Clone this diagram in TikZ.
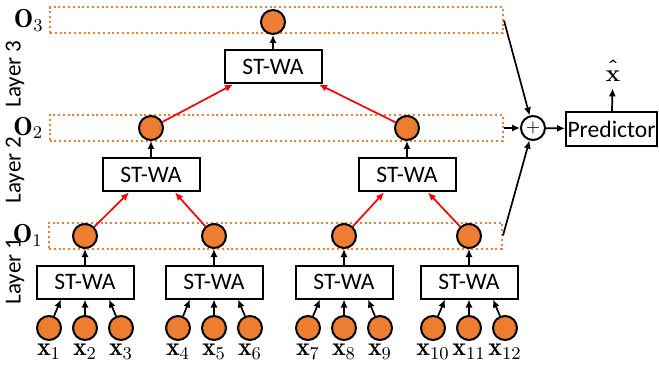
\documentclass[tikz,border=0pt]{standalone}
\usepackage{amsmath}
\usepackage{amssymb}
\usepackage{fontspec}
\setsansfont{Carlito}
\usetikzlibrary{positioning,arrows.meta}
\definecolor{unitorange}{RGB}{237,125,49}
\newcommand{\predhat}{\mbox{\boldmath$\hat{\vphantom{\mathbf{X}}\smash{\mathbf{x}}}$}}

\begin{document}
\begin{tikzpicture}[x=0.5pt,y=-0.5pt,>={Latex[length=4pt,width=3.6pt]},
	unit/.style={circle,draw,line width=1pt,fill=unitorange,minimum size=12pt,inner sep=0pt},
	stwa/.style={draw,line width=1pt,minimum width=48.5pt,minimum height=16.5pt,inner sep=0pt,font=\sffamily\fontsize{11.8}{13}\selectfont},
	rowbox/.style={draw=unitorange,line width=1pt,dash pattern=on 1pt off 1.4pt,minimum width=226.5pt,minimum height=13pt,inner sep=0pt},
	arr/.style={->,line width=0.85pt},
	redarr/.style={->,red,line width=0.85pt},
	mlabel/.style={inner sep=1pt,font=\fontsize{13}{15}\selectfont},
	layer/.style={rotate=90,font=\sffamily\fontsize{11.5}{13}\selectfont}]

	\useasboundingbox (0,0) rectangle (659,369);

	\node[rowbox] (r3) at (276.5,20.5) {};
	\node[rowbox] (r2) at (276,128) {};
	\node[rowbox] (r1) at (275.5,235.5) {};
	\node[mlabel,left=1.5pt of r3.west] (lo3) {$\mathbf{O}_3$};
	\node[mlabel,left=1.5pt of r2.west] (lo2) {$\mathbf{O}_2$};
	\node[mlabel,left=1.5pt of r1.west] (lo1) {$\mathbf{O}_1$};

	\node[layer] (l3) at (15,74) {Layer 3};
	\node[layer] (l2) at (15,170) {Layer 2};
	\node[layer] (l1) at (15,271) {Layer 1};

	\foreach \i/\x in {1/85,2/214,3/344,4/469} {
		\node[stwa] (a\i) at (\x,282) {ST-WA};
		\node[unit] (o\i) at (\x,236) {};
		\draw[arr] (a\i) -- (o\i);
		\foreach \k/\d/\s in {1/-36/-12pt,2/0/0pt,3/36/12pt} {
			\pgfmathtruncatemacro\n{3*(\i-1)+\k}
			\node[unit] (x\n) at (\x+\d,328) {};
			\node[mlabel,below=0.5pt of x\n] (lx\n) {$\mathbf{x}_{\n}$};
			\draw[arr] (x\n) -- ([xshift=\s]a\i.south);
		}
	}

	\node[stwa] (b1) at (151,175) {ST-WA};
	\node[stwa] (b2) at (407,175) {ST-WA};
	\node[unit] (p1) at (151,128) {};
	\node[unit] (p2) at (407,128) {};
	\draw[arr] (b1) -- (p1);
	\draw[arr] (b2) -- (p2);
	\draw[redarr] (o1) -- ([xshift=-11pt]b1.south);
	\draw[redarr] (o2) -- ([xshift=12pt]b1.south);
	\draw[redarr] (o3) -- ([xshift=-11.5pt]b2.south);
	\draw[redarr] (o4) -- ([xshift=10.5pt]b2.south);

	\node[stwa] (c) at (273,67) {ST-WA};
	\node[unit] (q) at (273,22) {};
	\draw[arr] (c) -- (q);
	\draw[redarr] (p1) -- ([xshift=-20pt]c.south);
	\draw[redarr] (p2) -- ([xshift=23pt]c.south);

	\node[circle,draw,line width=1pt,minimum size=12pt,inner sep=0pt] (sum) at (533,128) {\small$+$};
	\node[stwa,minimum width=45.5pt,minimum height=17pt] (pred) at (611.5,129) {Predictor};
	\node[mlabel,anchor=base] (xhat) at (613,82) {\predhat};

	\draw[arr] (r3.east) -- (sum);
	\draw[arr] (r2.east) -- (sum);
	\draw[arr] (r1.east) -- (sum);
	\draw[arr] (sum) -- (pred);
	\draw[arr,shorten >=2pt] (pred) -- (xhat);

\end{tikzpicture}
\end{document}
